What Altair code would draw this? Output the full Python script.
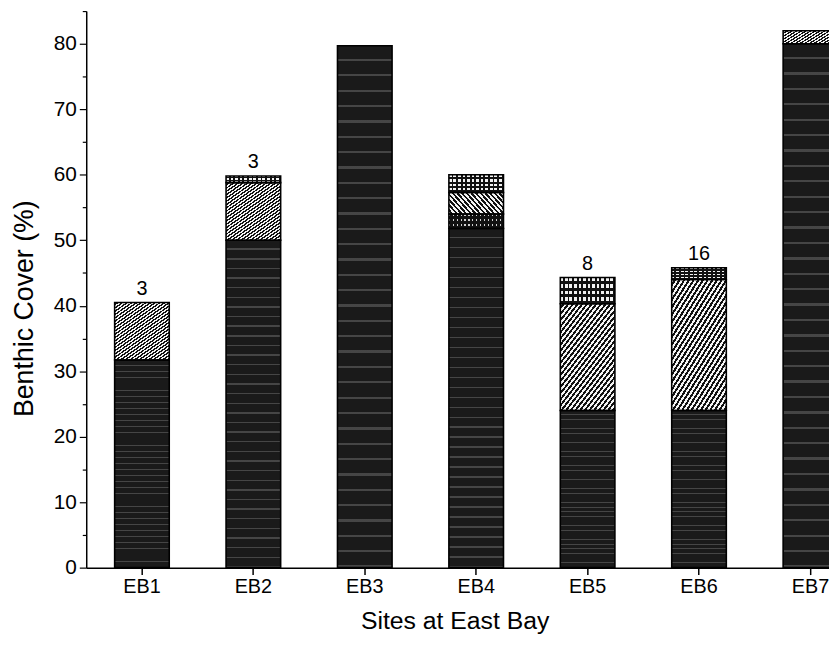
import altair as alt
import pandas as pd

sites = ["EB1", "EB2", "EB3", "EB4", "EB5", "EB6", "EB7"]
dark = [31.7, 50.0, 79.7, 51.8, 24.0, 24.0, 80.0]
dotted = [0.0, 0.0, 0.0, 2.2, 0.0, 0.0, 0.0]
hatched = [8.8, 8.8, 0.0, 3.3, 16.3, 20.0, 2.0]
crossed = [0.0, 1.0, 0.0, 2.7, 4.0, 1.8, 0.0]
top_labels = ["3", "3", "", "", "8", "16", ""]

cats = ["dark", "dotted", "hatched", "crossed"]
series = [dark, dotted, hatched, crossed]

# stacked segments (cumulative bases derived from the arrays)
rows = []
base = [0.0] * len(sites)
for c, vals in zip(cats, series):
    for i, (s, v) in enumerate(zip(sites, vals)):
        if v > 0:
            rows.append({"site": s, "cat": c, "y0": base[i], "y1": round(base[i] + v, 3)})
        base[i] = round(base[i] + v, 3)
df = pd.DataFrame(rows)

lab_df = pd.DataFrame({"site": sites, "total": base, "label": top_labels})
lab_df = lab_df[lab_df["label"] != ""]

FONT = "Liberation Sans"


def stripes(n, light, darkc, frac_light, x1, y1, x2, y2):
    stops = []
    for i in range(n):
        a = i / n
        b = (i + frac_light) / n
        e = (i + 1) / n
        stops += [
            {"offset": a, "color": light},
            {"offset": b, "color": light},
            {"offset": b, "color": darkc},
            {"offset": e, "color": darkc},
        ]
    return {"gradient": "linear", "x1": x1, "y1": y1, "x2": x2, "y2": y2, "stops": stops}


hatch_fill = stripes(38, "#f4f4f4", "#111111", 0.5, 0, 0, 1, 1.5)
vert_fill = stripes(12, "#f2f2f2", "#111111", 0.6, 0, 0, 1, 0)
horiz_lines = stripes(4, "rgba(0,0,0,0)", "#111111", 0.55, 0, 0, 0, 1)
dot_fill = stripes(14, "#cfcfcf", "#111111", 0.3, 0, 0, 1, 0)
dot_lines = stripes(3, "rgba(0,0,0,0)", "#111111", 0.4, 0, 0, 0, 1)
streaks = stripes(34, "rgba(0,0,0,0)", "rgba(170,170,170,0.3)", 0.85, 0, 0, 0, 1)

x_enc = alt.X(
    "site:N",
    sort=sites,
    title="Sites at East Bay",
    scale=alt.Scale(range=[0, 787.5], paddingInner=0.51, paddingOuter=0.255),
    axis=alt.Axis(
        labelAngle=0, tickSize=7, labelPadding=2, titlePadding=12,
        labelFontSize=20, titleFontSize=25, domainWidth=1.5, tickWidth=1.5,
        titleX=372,
    ),
)

y_scale = alt.Scale(domain=[0, 85], nice=False)
y_axis = alt.Axis(
    values=list(range(0, 86, 5)),
    labelExpr="datum.value % 10 == 0 ? datum.label : ''",
    tickSize={"condition": {"test": "datum.value % 10 == 0", "value": 7}, "value": 4},
    labelPadding=3, titlePadding=15,
    labelFontSize=21, titleFontSize=27, domainWidth=1.5, tickWidth=1.2,
    grid=False, titleY=300,
)
y_enc = alt.Y("y0:Q", title="Benthic Cover (%)", scale=y_scale, axis=y_axis)

base_chart = alt.Chart(df).encode(x=x_enc, y=y_enc, y2="y1:Q")


def seg(cat, fill):
    return base_chart.transform_filter(alt.datum.cat == cat).mark_bar(fill=fill, strokeWidth=0)


layers = [
    seg("dark", "#1a1a1a"),
    seg("dark", streaks),
    seg("dotted", dot_fill),
    seg("dotted", dot_lines),
    seg("hatched", hatch_fill),
    seg("crossed", vert_fill),
    seg("crossed", horiz_lines),
    base_chart.mark_bar(fill="black", fillOpacity=0, stroke="black", strokeWidth=1.6),
]

text = alt.Chart(lab_df).mark_text(
    fontSize=20, baseline="alphabetic", dy=-8, color="black", font=FONT
).encode(
    x=x_enc,
    y=alt.Y("total:Q", title="Benthic Cover (%)", scale=y_scale, axis=y_axis),
    text="label:N",
)

chart = (
    alt.layer(*layers, text)
    .properties(
        width=750,
        height=562,
        autosize=alt.AutoSizeParams(type="none"),
        padding={"left": 79, "top": 0, "right": 0, "bottom": 74},
    )
    .configure_view(stroke=None)
    .configure_axis(
        labelFont=FONT, titleFont=FONT, labelColor="black", titleColor="black",
        domainColor="black", tickColor="black", titleFontWeight="normal",
    )
)

chart.save("out.html", embed_options={"renderer": "svg", "actions": False})
